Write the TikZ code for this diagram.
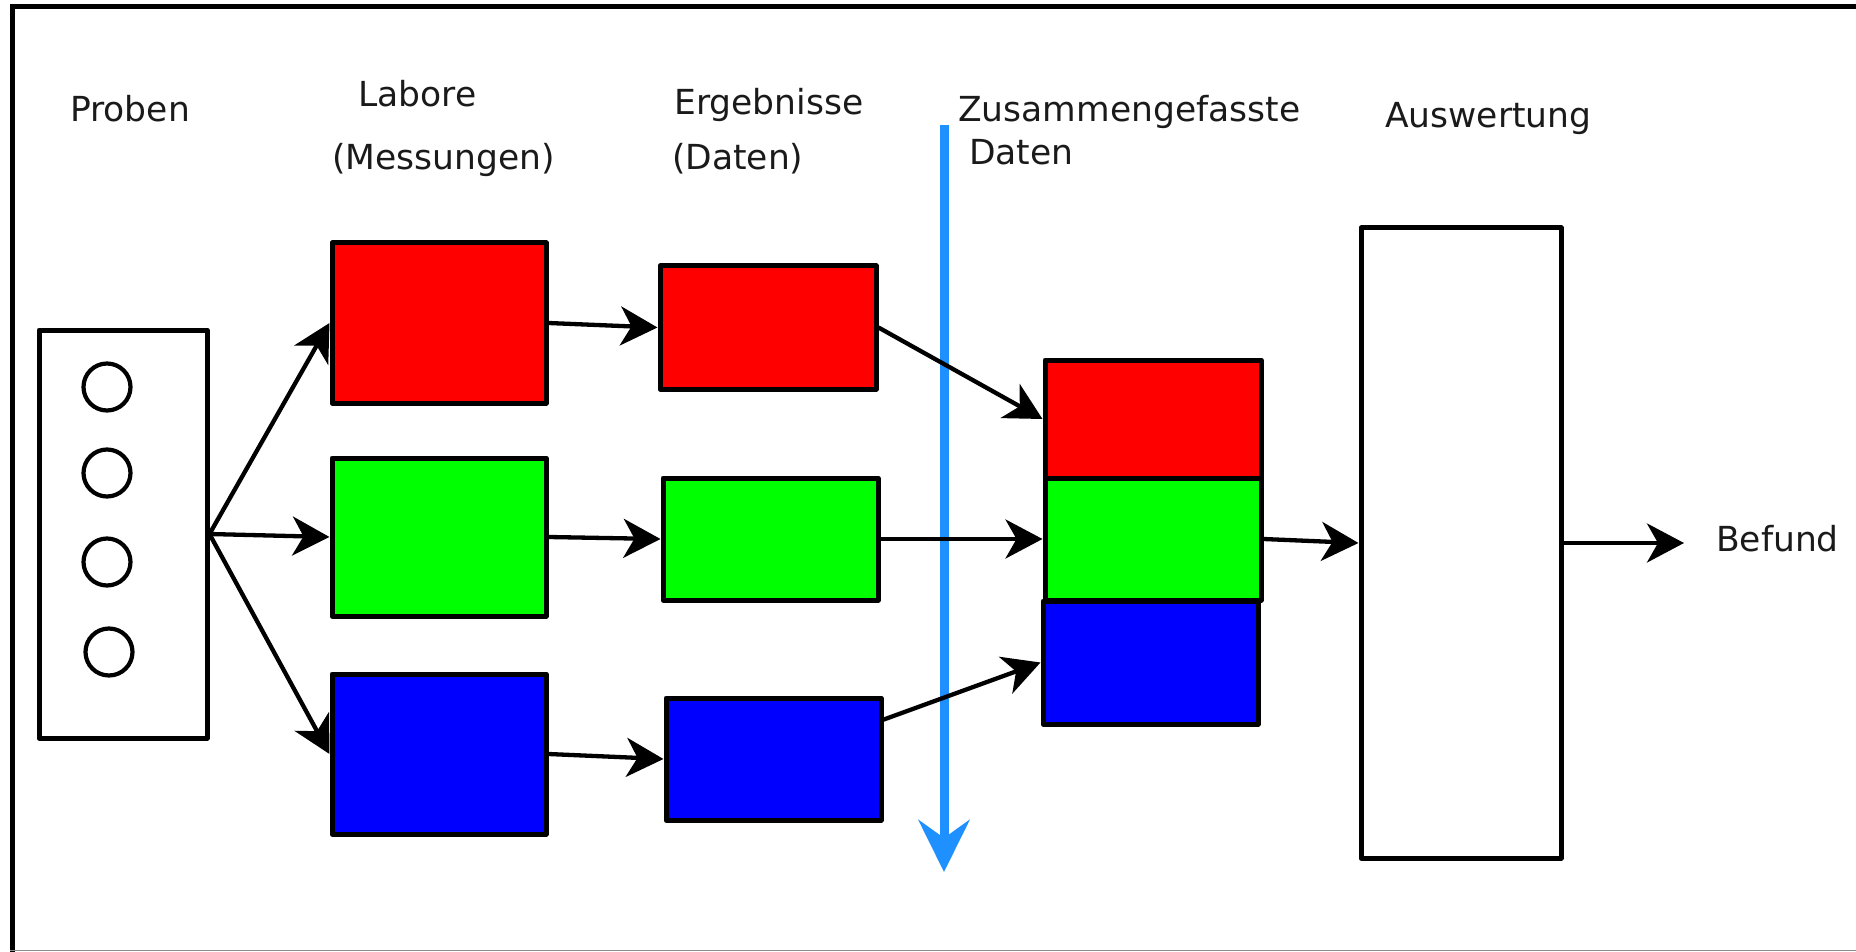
\documentclass[tikz,border=0pt]{standalone}
\usepackage{fontspec}
\setmainfont{DejaVu Sans}
\usetikzlibrary{arrows.meta,calc}
\definecolor{flowblue}{RGB}{30,144,255}
\definecolor{ink}{RGB}{26,26,26}
\definecolor{cred}{RGB}{255,0,0}
\definecolor{cgreen}{RGB}{0,255,0}
\definecolor{cblue}{RGB}{0,0,255}
\begin{document}
\begin{tikzpicture}[x=1pt,y=-1pt,
  box/.style={draw=black, line width=5pt, line join=round, inner sep=0pt},
  arr/.style={draw=black, line width=4.3pt, -{Stealth[length=37pt,width=39pt,inset=11pt]}},
  lbl/.style={anchor=base west, inner sep=0pt, text=ink, font=\fontsize{34.5}{40}\selectfont},
  dot/.style={circle, draw=black, line width=4.2pt, minimum size=47pt, inner sep=0pt}]
\useasboundingbox (0,0) rectangle (1856,952);

% outer frame
\draw[line width=5pt, black] (12.5,952) -- (12.5,6.5) -- (1856,6.5);
\draw[line width=1.5pt, black!45] (10,950.5) -- (1856,950.5);

% cut line between single results and merged data
\coordinate (cutTop) at (944,125);
\coordinate (cutEnd) at (944,872);
\draw[line width=9pt, flowblue, -{Stealth[length=52pt,width=51pt,inset=18pt]}] (cutTop) -- (cutEnd);

% column headings
\node[lbl] (tProben) at (70,122) {Proben};
\node[lbl] (tLabore) at (358,107) {Labore};
\node[lbl] (tMess) at (332,170) {(Messungen)};
\node[lbl] (tErg) at (674,115) {Ergebnisse};
\node[lbl] (tDaten) at (672,170) {(Daten)};
\node[lbl] (tZus) at (958,122) {Zusammengefasste};
\node[lbl] (tZusD) at (969,165) {Daten};
\node[lbl] (tAusw) at (1385,128) {Auswertung};
\node[lbl] (befund) at (1716,551) {Befund};

% samples
\node[box, fill=white, minimum width=168pt, minimum height=408pt] (sample) at (123,534) {};
\node[dot] (s1) at (107,387) {};
\node[dot] (s2) at (107,473) {};
\node[dot] (s3) at (107,562) {};
\node[dot] (s4) at (109,652) {};

% laboratories
\node[box, fill=cred,   minimum width=214pt, minimum height=160pt] (labR) at (439,323) {};
\node[box, fill=cgreen, minimum width=214pt, minimum height=158pt] (labG) at (439,537) {};
\node[box, fill=cblue,  minimum width=214pt, minimum height=160pt] (labB) at (439,754) {};

% results
\node[box, fill=cred,   minimum width=216pt, minimum height=123pt] (resR) at (768,327.5) {};
\node[box, fill=cgreen, minimum width=215pt, minimum height=122pt] (resG) at (770.5,539) {};
\node[box, fill=cblue,  minimum width=215pt, minimum height=122pt] (resB) at (773.5,759) {};

% merged data
\node[box, fill=cred,   minimum width=216pt, minimum height=118pt] (mrgR) at (1153,419) {};
\node[box, fill=cgreen, minimum width=216pt, minimum height=122pt] (mrgG) at (1153,539) {};
\node[box, fill=cblue,  minimum width=215pt, minimum height=123pt] (mrgB) at (1150.5,662.5) {};

% evaluation
\node[box, fill=white, minimum width=200pt, minimum height=630pt] (ausw) at (1461,543) {};

% connectors
\draw[arr] (sample.east) -- (labR.west);
\draw[arr] (sample.east) -- (labG.west);
\draw[arr] (sample.east) -- (labB.west);

\draw[arr] (labR.east) -- (resR.west);
\draw[arr] (labG.east) -- (resG.west);
\draw[arr] (labB.east) -- (resB.west);

\draw[arr] (resR.east) -- (mrgR.west);
\draw[arr] (resG.east) -- (mrgG.west);
\draw[arr] ($(resB.north east)!0.19!(resB.south east)$) -- (mrgB.west);

\draw[arr] (mrgG.east) -- (ausw.west);
\draw[arr, shorten >=32pt] (ausw.east) -- (befund.west |- ausw.east);
\end{tikzpicture}
\end{document}
